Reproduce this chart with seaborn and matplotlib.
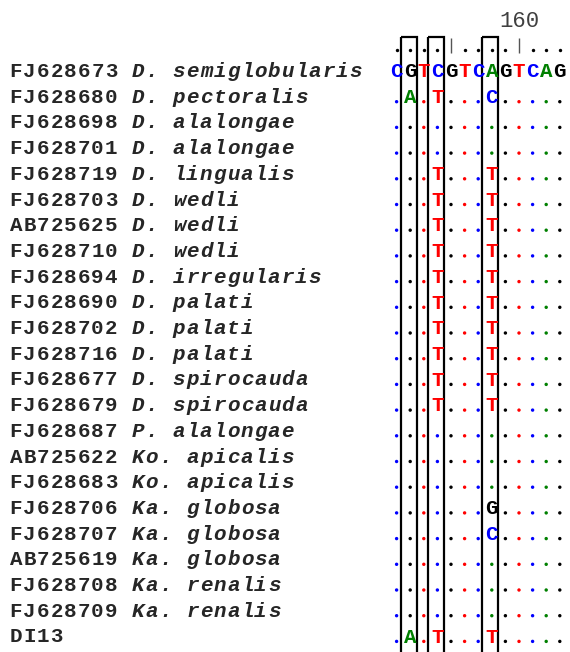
import numpy as np
import pandas as pd
import matplotlib.pyplot as plt
from matplotlib.patches import Rectangle
import seaborn as sns

# Alignment data (columns around position 160)
accessions = ["FJ628673", "FJ628680", "FJ628698", "FJ628701", "FJ628719", "FJ628703",
              "AB725625", "FJ628710", "FJ628694", "FJ628690", "FJ628702", "FJ628716",
              "FJ628677", "FJ628679", "FJ628687", "AB725622", "FJ628683", "FJ628706",
              "FJ628707", "AB725619", "FJ628708", "FJ628709", "DI13"]
species = ["D. semiglobularis", "D. pectoralis", "D. alalongae", "D. alalongae",
           "D. lingualis", "D. wedli", "D. wedli", "D. wedli", "D. irregularis",
           "D. palati", "D. palati", "D. palati", "D. spirocauda", "D. spirocauda",
           "P. alalongae", "Ko. apicalis", "Ko. apicalis", "Ka. globosa",
           "Ka. globosa", "Ka. globosa", "Ka. renalis", "Ka. renalis", ""]
reference = "CGTCGTCAGTCAG"
sequences = ["CGTCGTCAGTCAG",
             ".A.T...C.....",
             ".............",
             ".............",
             "...T...T.....",
             "...T...T.....",
             "...T...T.....",
             "...T...T.....",
             "...T...T.....",
             "...T...T.....",
             "...T...T.....",
             "...T...T.....",
             "...T...T.....",
             "...T...T.....",
             ".............",
             ".............",
             ".............",
             ".......G.....",
             ".......C.....",
             ".............",
             ".............",
             ".............",
             ".A.T...T....."]
ruler = "....|....|..."
ruler_label = "160"
ruler_label_col = 9
boxed_cols = [1, 3, 7]

base_colors = {"A": "#008000", "C": "#0000ff", "G": "#000000", "T": "#ff0000"}
name_width = 28  # characters before the alignment starts
font = "Liberation Mono"
fs = 15


def col_x(c):
    return name_width + c + 0.5


def put_chars(x0, y, s, **kw):
    # one glyph per character cell, like a fixed-width terminal
    for i, ch in enumerate(s):
        if ch != " ":
            ax.text(x0 + i + 0.5, y, ch, family=font, fontsize=fs,
                    va="baseline", ha="center", **kw)


# identical positions become coloured dots
dots = pd.DataFrame(
    [(col_x(c), r, reference[c]) for r, s in enumerate(sequences)
     for c, ch in enumerate(s) if ch == "."],
    columns=["x", "row", "base"])
ruler_dots = pd.DataFrame(
    [(col_x(c), -1) for c, ch in enumerate(ruler) if ch == "."], columns=["x", "row"])

sns.set_style("white")
fig = plt.figure(figsize=(5.7, 6.52), dpi=100)
ax = fig.add_axes([0, 0, 1, 1])
ax.set_xlim(-9 / 13.6, 561 / 13.6)
ax.set_ylim(576 / 25.7, -76 / 25.7)
ax.axis("off")

sns.scatterplot(data=dots, x="x", y="row", hue="base", palette=base_colors,
                s=6, linewidth=0, legend=False, ax=ax)
sns.scatterplot(data=ruler_dots, x="x", y="row", color="black",
                s=6, linewidth=0, legend=False, ax=ax)

# names
for r, (acc, sp) in enumerate(zip(accessions, species)):
    put_chars(0, r + 0.04, acc, fontweight="bold")
    put_chars(len(acc) + 1, r + 0.04, sp, fontweight="bold", fontstyle="italic")

# differing bases
for r, s in enumerate(sequences):
    for c, ch in enumerate(s):
        if ch != ".":
            ax.text(col_x(c), r + 0.05, ch, family=font, fontsize=fs,
                    fontweight="bold", color=base_colors[ch],
                    va="baseline", ha="center")

# ruler
for c, ch in enumerate(ruler):
    if ch == "|":
        ax.vlines(col_x(c), -1.48, -0.9, color="#555555", lw=1)
ax.text(col_x(ruler_label_col), -1.92, ruler_label, family=font, fontsize=fs + 1,
        color="#404040", va="baseline", ha="center")

# boxes around informative columns
for c in boxed_cols:
    ax.add_patch(Rectangle((col_x(c) - 0.7, -1.52), 1.17, 30, fill=False,
                           edgecolor="black", lw=1.6, clip_on=True))

fig.savefig("out.png", dpi=100)
